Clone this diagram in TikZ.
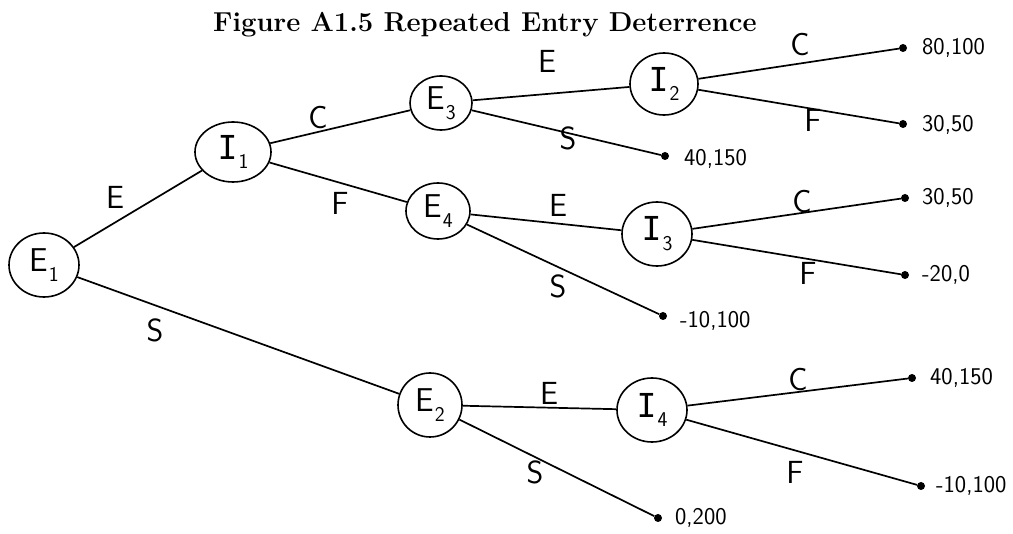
\documentclass[tikz,border=0pt]{standalone}
\usepackage{fontspec}
\newfontfamily\monoI{DejaVu Sans Mono}
\usetikzlibrary{shapes.geometric}
\newcommand\nodelab[2]{#1\kern1pt\raisebox{-0.3em}{\fontsize{21}{21}\selectfont #2}}
\tikzset{
  dec/.style={draw, ellipse, line width=1.6pt, inner sep=0pt, font=\sffamily\fontsize{33}{33}\selectfont},
  term/.style={circle, fill, inner sep=0pt, minimum size=8pt},
  br/.style={line width=1.7pt},
  act/.style={font=\sffamily\fontsize{32}{32}\selectfont, inner sep=0pt},
  pay/.style={font=\sffamily\fontsize{24}{24}\selectfont, inner sep=0pt, anchor=west},
}
\begin{document}
\begin{tikzpicture}[x=1pt,y=-1pt]
\useasboundingbox (0,0) rectangle (1013,534);
\node[anchor=base west, inner sep=0pt, font=\rmfamily\bfseries\fontsize{27.4}{32}\selectfont] (title) at (213,32) {Figure A1.5 Repeated Entry Deterrence};

% decision nodes
\node[dec, minimum width=70pt, minimum height=64pt] (E1) at (44,265) {\nodelab{E}{1}};
\node[dec, minimum width=76pt, minimum height=60pt] (I1) at (233,152) {\nodelab{{\monoI I}}{1}};
\node[dec, minimum width=62pt, minimum height=54pt] (E3) at (441,103) {\nodelab{E}{3}};
\node[dec, minimum width=64pt, minimum height=56pt] (E4) at (438,211) {\nodelab{E}{4}};
\node[dec, minimum width=64pt, minimum height=64pt] (E2) at (430,405) {\nodelab{E}{2}};
\node[dec, minimum width=68pt, minimum height=62pt] (I2) at (664,84) {\nodelab{{\monoI I}}{2}};
\node[dec, minimum width=70pt, minimum height=64pt] (I3) at (657,234) {\nodelab{{\monoI I}}{3}};
\node[dec, minimum width=70pt, minimum height=64pt] (I4) at (652,410) {\nodelab{{\monoI I}}{4}};

% terminal nodes
\node[term] (t1) at (903,48) {};
\node[term] (t2) at (903,124) {};
\node[term] (t3) at (665,156) {};
\node[term] (t4) at (905,198) {};
\node[term] (t5) at (905,275) {};
\node[term] (t6) at (663,316) {};
\node[term] (t7) at (912,378) {};
\node[term] (t8) at (921,486) {};
\node[term] (t9) at (658,518) {};

% payoffs
\node[pay] (p1) at (922,48) {80,100};
\node[pay] (p2) at (922,125) {30,50};
\node[pay] (p3) at (684,159) {40,150};
\node[pay] (p4) at (922,198) {30,50};
\node[pay] (p5) at (922,275) {-20,0};
\node[pay] (p6) at (680,321) {-10,100};
\node[pay] (p7) at (930,378) {40,150};
\node[pay] (p8) at (936,486) {-10,100};
\node[pay] (p9) at (675,518) {0,200};

% branches
\draw[br] (E1) -- (I1);
\draw[br] (E1) -- (E2);
\draw[br] (I1) -- (E3);
\draw[br] (I1) -- (E4);
\draw[br] (E3) -- (I2);
\draw[br] (E3) -- (t3);
\draw[br] (E4) -- (I3);
\draw[br] (E4) -- (t6);
\draw[br] (E2) -- (I4);
\draw[br] (E2) -- (t9);
\draw[br] (I2) -- (t1);
\draw[br] (I2) -- (t2);
\draw[br] (I3) -- (t4);
\draw[br] (I3) -- (t5);
\draw[br] (I4) -- (t7);
\draw[br] (I4) -- (t8);

% action labels
\node[act] (aE1) at (115,197) {E};
\node[act] (aS1) at (155,330) {S};
\node[act] (aC1) at (318,118) {C};
\node[act] (aF1) at (340,203) {F};
\node[act] (aE3) at (547,61) {E};
\node[act] (aS3) at (568,138) {S};
\node[act] (aC2) at (800,45) {C};
\node[act] (aF2) at (813,120) {F};
\node[act] (aE4) at (558,205) {E};
\node[act] (aS4) at (558,286) {S};
\node[act] (aC3) at (802,202) {C};
\node[act] (aF3) at (808,273) {F};
\node[act] (aE2) at (549,393) {E};
\node[act] (aS2) at (535,472) {S};
\node[act] (aC4) at (798,380) {C};
\node[act] (aF4) at (795,472) {F};
\end{tikzpicture}
\end{document}
